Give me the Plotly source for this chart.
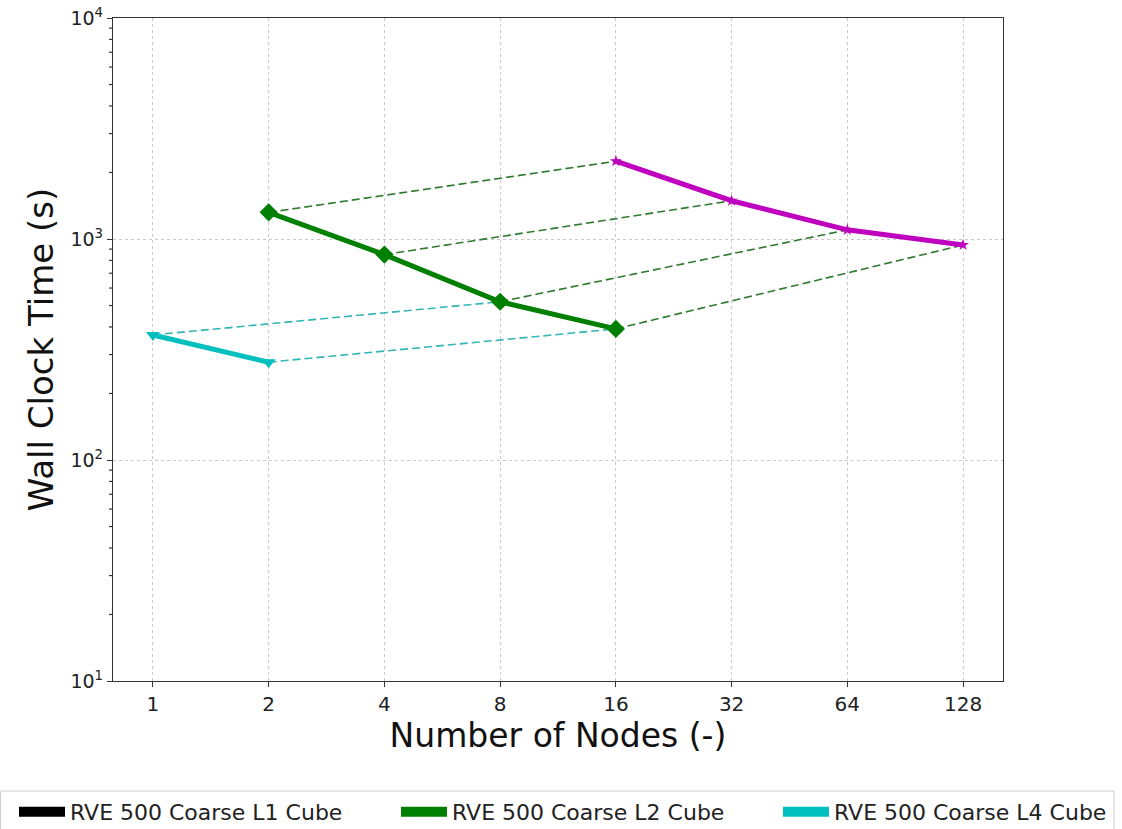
import math
import plotly.graph_objects as go

# Wall clock time (s) versus number of nodes for each refinement level
nodes_l1 = [16, 32, 64, 128]
time_l1 = [2250, 1490, 1100, 940]

nodes_l2 = [2, 4, 8, 16]
time_l2 = [1320, 850, 520, 392]

nodes_l4 = [1, 2]
time_l4 = [368, 277]

# Links between runs that share the same elements-per-node load
l2_to_l1 = [(0, 0), (1, 1), (2, 2), (3, 3)]
l4_to_l2 = [(0, 2), (1, 3)]

x_ticks = [1, 2, 4, 8, 16, 32, 64, 128]
y_ticks = [10, 100, 1000, 10000]
y_tick_text = ["10<sup>1</sup>", "10<sup>2</sup>", "10<sup>3</sup>", "10<sup>4</sup>"]
y_minor = [m * 10 ** e for e in range(1, 4) for m in range(2, 10)]

legend_names = ["RVE 500 Coarse L1 Cube", "RVE 500 Coarse L2 Cube", "RVE 500 Coarse L4 Cube"]
legend_colors = ["#000000", "#008000", "#00bfbf"]

FONT = "DejaVu Sans"
W, H = 1122, 829
ML, MR, MT, MB = 113, 119, 18, 148
PW, PH = W - ML - MR, H - MT - MB
Y_LOG_RANGE = (1, 4)

fig = go.Figure()

for a, b in l2_to_l1:
    fig.add_trace(go.Scatter(
        x=[nodes_l2[a], nodes_l1[b]], y=[time_l2[a], time_l1[b]],
        mode="lines", line=dict(color="#2f7a2f", width=1.6, dash="8px,4px"),
        showlegend=False, hoverinfo="skip"))

for a, b in l4_to_l2:
    fig.add_trace(go.Scatter(
        x=[nodes_l4[a], nodes_l2[b]], y=[time_l4[a], time_l2[b]],
        mode="lines", line=dict(color="#33b5b5", width=1.6, dash="8px,4px"),
        showlegend=False, hoverinfo="skip"))

fig.add_trace(go.Scatter(
    x=nodes_l1, y=time_l1, mode="lines+markers",
    line=dict(color="#bf00bf", width=5),
    marker=dict(symbol="star", size=9, color="#bf00bf"),
    showlegend=False))

fig.add_trace(go.Scatter(
    x=nodes_l2, y=time_l2, mode="lines+markers",
    line=dict(color="#008000", width=5),
    marker=dict(symbol="diamond", size=14, color="#008000"),
    showlegend=False))

fig.add_trace(go.Scatter(
    x=nodes_l4, y=time_l4, mode="lines+markers",
    line=dict(color="#00bfbf", width=5),
    marker=dict(symbol="triangle-down", size=12, color="#00bfbf"),
    showlegend=False))

# Legend-only entries drawn as solid patches, one legend box per entry
legend_ids = ["legend", "legend2", "legend3"]
for name, col, lid in zip(legend_names, legend_colors, legend_ids):
    fig.add_trace(go.Scatter(
        x=[None], y=[None], mode="lines", name=name, legend=lid,
        line=dict(color=col, width=16)))

x_lo = math.log10(2 ** -0.345)
x_hi = math.log10(2 ** 7.345)

axis_common = dict(
    showline=True, linecolor="#333333", linewidth=1.3, mirror=True,
    ticks="outside", ticklen=5, tickcolor="#333333",
    showgrid=True, gridcolor="#c8c8c8", griddash="dot", gridwidth=1,
    zeroline=False,
)

fig.update_xaxes(
    type="log", range=[x_lo, x_hi], tickvals=x_ticks,
    ticktext=[str(v) for v in x_ticks],
    tickfont=dict(family=FONT, size=20, color="#222222"),
    title=dict(text="Number of Nodes (-)", font=dict(family=FONT, size=33, color="#111111"),
               standoff=3),
    **axis_common)

fig.update_yaxes(
    type="log", range=list(Y_LOG_RANGE), tickvals=y_ticks, ticktext=y_tick_text,
    tickfont=dict(family=FONT, size=19, color="#222222"),
    title=dict(text="Wall Clock Time (s)", font=dict(family=FONT, size=34, color="#111111"),
               standoff=6),
    **axis_common)

# Minor log ticks on the left spine, placed in paper units so they sit outside the plot area
span = Y_LOG_RANGE[1] - Y_LOG_RANGE[0]
for v in y_minor:
    yp = (math.log10(v) - Y_LOG_RANGE[0]) / span
    fig.add_shape(
        type="line", xref="paper", yref="paper",
        x0=-4 / PW, x1=0, y0=yp, y1=yp,
        line=dict(color="#333333", width=1.2))

legend_style = dict(
    orientation="h", xanchor="left", yanchor="top",
    yref="container", xref="container", y=1 - 791 / H,
    borderwidth=0, bgcolor="rgba(0,0,0,0)",
    font=dict(family=FONT, size=22, color="#222222"),
    itemwidth=46,
)
legend_left = [14, 396, 778]

# Frame around the legend row
fig.add_shape(
    type="rect", xref="paper", yref="paper",
    x0=(0.5 - ML) / PW, x1=(1114 - ML) / PW,
    y0=(H - MB - 840) / PH, y1=(H - MB - 791) / PH,
    line=dict(color="#d0d0d0", width=1), fillcolor="white", layer="below")

fig.update_layout(
    width=W, height=H,
    paper_bgcolor="white", plot_bgcolor="white",
    margin=dict(l=ML, r=MR, t=MT, b=MB, autoexpand=False),
    font=dict(family=FONT),
    legend=dict(x=legend_left[0] / W, **legend_style),
    legend2=dict(x=legend_left[1] / W, **legend_style),
    legend3=dict(x=legend_left[2] / W, **legend_style),
)

fig.write_html("out.html")
